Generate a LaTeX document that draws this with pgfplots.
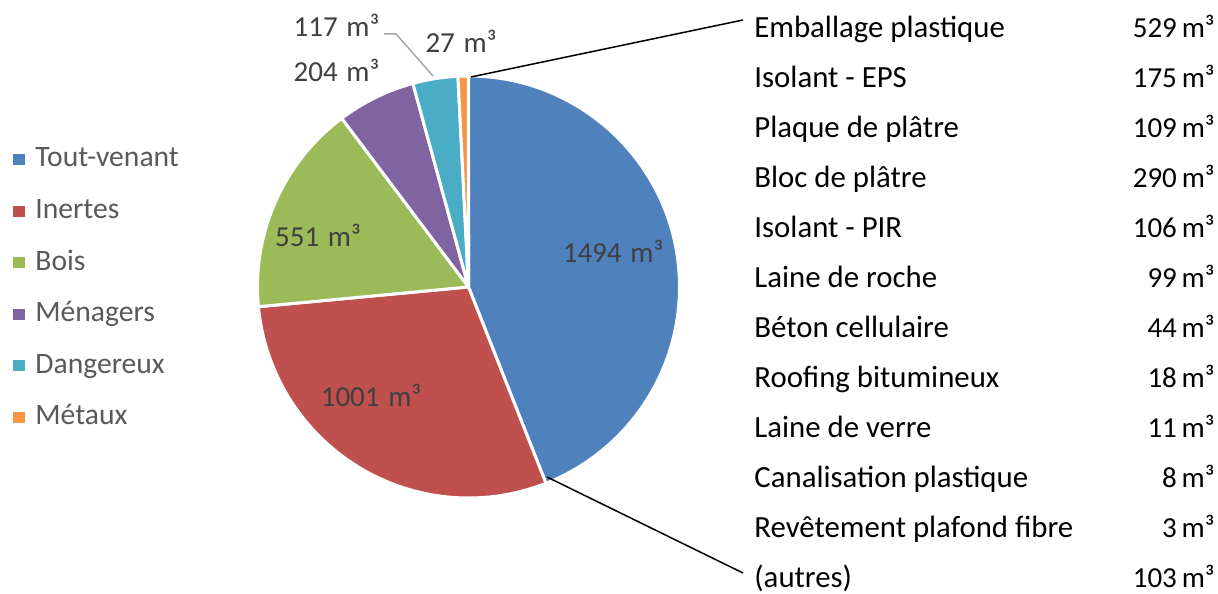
\documentclass[border=0pt]{standalone}
\usepackage{fontspec}
\setmainfont{Carlito}
\usepackage{pgfplots}
\usepackage{pgfplotstable}
\pgfplotsset{compat=1.18}

\definecolor{cTout}{HTML}{4F81BD}
\definecolor{cInert}{HTML}{C0504D}
\definecolor{cBois}{HTML}{9BBB59}
\definecolor{cMen}{HTML}{8064A2}
\definecolor{cDang}{HTML}{4BACC6}
\definecolor{cMet}{HTML}{F79646}
\definecolor{lblgray}{HTML}{404040}
\definecolor{leggray}{HTML}{595959}
\definecolor{leadgray}{HTML}{A6A6A6}

\pgfplotstableread[col sep=comma]{
cat,value
Tout-venant,1494
Inertes,1001
Bois,551
Ménagers,204
Dangereux,117
Métaux,27
}\piedata

\pgfplotstableread[col sep=comma]{
name,value
Emballage plastique,529
Isolant - EPS,175
Plaque de plâtre,109
Bloc de plâtre,290
Isolant - PIR,106
Laine de roche,99
Béton cellulaire,44
Roofing bitumineux,18
Laine de verre,11
Canalisation plastique,8
Revêtement plafond fibre,3
(autres),103
}\detaildata

\newcommand\cx{468.5}
\newcommand\cy{306}
\newcommand\rr{211}
\newcommand\rpt{105.5pt}
\newcommand\fnt{\fontsize{14.5}{17}\selectfont}
\newcommand\fntleg{\fontsize{14.8}{17}\selectfont}
\newcommand\fntname{\fontsize{15.4}{18}\selectfont}

\newcommand\slice[2]{%
  \fill[#2, draw=white, line width=1.5pt, line join=round]
    (axis cs:\cx,\cy) --
    (axis cs:{\cx+\rr*cos(\csname sA#1\endcsname)},{\cy+\rr*sin(\csname sA#1\endcsname)})
    arc[start angle=\csname sA#1\endcsname, end angle=\csname eA#1\endcsname, radius=\rpt] -- cycle;}

\begin{document}
\begin{tikzpicture}
% compute total and angles
\xdef\total{0}%
\foreach \i in {0,...,5}{%
  \pgfplotstablegetelem{\i}{value}\of\piedata
  \pgfmathsetmacro\t{\total+\pgfplotsretval}%
  \xdef\total{\t}%
}%
\xdef\cum{90}%
\foreach \i in {0,...,5}{%
  \pgfplotstablegetelem{\i}{value}\of\piedata
  \pgfmathsetmacro\e{\cum-360*(\pgfplotsretval/\total)}%
  \expandafter\xdef\csname sA\i\endcsname{\cum}%
  \expandafter\xdef\csname eA\i\endcsname{\e}%
  \xdef\cum{\e}%
}%
\begin{axis}[
  x=0.5pt, y=0.5pt,
  xmin=0, xmax=1218, ymin=0, ymax=593,
  hide axis, clip=false,
]
\coordinate (BL) at (axis cs:0,0);
\coordinate (TR) at (axis cs:1218,593);

\slice{0}{cTout}
\slice{1}{cInert}
\slice{2}{cBois}
\slice{3}{cMen}
\slice{4}{cDang}
\slice{5}{cMet}

% data labels
\node[anchor=base, text=lblgray, font=\fnt] at (axis cs:613,330) {1494\hspace{0.3em}m³};
\node[anchor=base, text=lblgray, font=\fnt] at (axis cs:371,186) {1001\hspace{0.3em}m³};
\node[anchor=base, text=lblgray, font=\fnt] at (axis cs:318,346) {551\hspace{0.3em}m³};
\node[anchor=base, text=lblgray, font=\fnt] at (axis cs:336.5,511) {204\hspace{0.3em}m³};
\node[anchor=base, text=lblgray, font=\fnt] at (axis cs:336.5,556) {117\hspace{0.3em}m³};
\node[anchor=base, text=lblgray, font=\fnt] at (axis cs:461,540) {27\hspace{0.3em}m³};

% leader for 117
\draw[leadgray, line width=0.75pt] (axis cs:384,559) -- (axis cs:396,559) -- (axis cs:433,517);

% connector lines
\draw[black, line width=0.75pt] (axis cs:471,516) -- (axis cs:743,573);
\draw[black, line width=0.75pt] (axis cs:547,116) -- (axis cs:743,20);

% legend
\foreach \i/\c in {0/cTout,1/cInert,2/cBois,3/cMen,4/cDang,5/cMet}{
  \pgfplotstablegetelem{\i}{cat}\of\piedata
  \let\n\pgfplotsretval
  \pgfmathsetmacro\by{593-167-51.6*\i}
  \edef\tmp{%
    \noexpand\fill[\c] (axis cs:13,{\by+2}) rectangle (axis cs:25,{\by+13});
    \noexpand\node[anchor=base west, inner sep=0pt, text=leggray, font=\noexpand\fntleg] at (axis cs:35,\by) {\n};
  }\tmp
}

% detail list
\foreach \i in {0,...,11}{
  \pgfplotstablegetelem{\i}{name}\of\detaildata
  \let\nm\pgfplotsretval
  \pgfplotstablegetelem{\i}{value}\of\detaildata
  \let\vl\pgfplotsretval
  \pgfmathsetmacro\by{593-38-50*\i}
  \edef\tmp{%
    \noexpand\node[anchor=base west, inner sep=0pt, text=black, font=\noexpand\fntname] at (axis cs:754,\by) {\nm};
    \noexpand\node[anchor=base east, inner sep=0pt, text=black, font=\noexpand\fnt] at (axis cs:1215,\by) {\vl\noexpand\,m³};
  }\tmp
}
\end{axis}
\pgfresetboundingbox
\path (BL) rectangle (TR);
\end{tikzpicture}
\end{document}
